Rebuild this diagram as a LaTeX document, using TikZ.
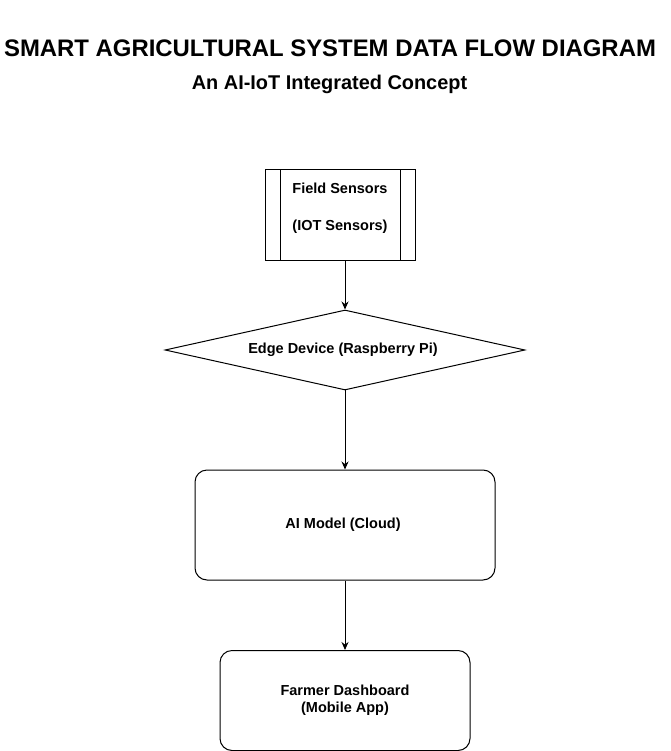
\documentclass[tikz,border=0pt]{standalone}
\usepackage{fontspec}
\setmainfont{Liberation Sans}
\usetikzlibrary{shapes.geometric, arrows.meta, positioning}

\begin{document}
\begin{tikzpicture}[
    x=1pt, y=-1pt,
    line width=1pt,
    boxtext/.style={
        align=center,
        font=\fontsize{14.5}{17}\selectfont\bfseries
    },
    procbox/.style={
        rectangle,
        draw,
        minimum width=150pt,
        minimum height=90pt,
        inner sep=0pt,
        path picture={
            \draw ([xshift=15pt]path picture bounding box.north west)
                -- ([xshift=15pt]path picture bounding box.south west);
            \draw ([xshift=-15pt]path picture bounding box.north east)
                -- ([xshift=-15pt]path picture bounding box.south east);
        }
    },
    decision/.style={
        diamond,
        draw,
        aspect=4.5,
        inner sep=0pt,
        minimum width=360pt,
        minimum height=80pt,
        boxtext
    },
    box/.style={
        rectangle,
        rounded corners=12pt,
        draw,
        boxtext
    },
    arrow/.style={
        -{Stealth[length=8pt, width=7pt]}
    }
]

\useasboundingbox (0,0) rectangle (670,751);

% ------------------------------------------------
% Title
% ------------------------------------------------

\node[anchor=base, font=\fontsize{23.9}{28}\selectfont\bfseries] (title) at (330,57) {
    SMART AGRICULTURAL SYSTEM DATA FLOW DIAGRAM
};

\node[anchor=base, font=\fontsize{19.9}{24}\selectfont\bfseries] (subtitle) at (329.5,90) {
    An AI-IoT Integrated Concept
};

% ------------------------------------------------
% Data flow
% ------------------------------------------------

\node[procbox, label={[boxtext, yshift=6.5pt]center:Field Sensors\\[20pt](IOT Sensors)}] (sensors) at (340,215) {};

\node[decision] (edge) at (345,350) {
    Edge Device (Raspberry Pi)
};

\node[box, minimum width=300pt, minimum height=110pt] (model) at (345,525) {
    AI Model (Cloud)
};

\node[box, minimum width=250pt, minimum height=100pt] (dashboard) at (345,700.5) {
    Farmer Dashboard\\
    (Mobile App)
};

% ------------------------------------------------
% Arrows
% ------------------------------------------------

\draw[arrow] (sensors.south -| edge.north) -- (edge.north);
\draw[arrow] (edge) -- (model);
\draw[arrow] (model) -- (dashboard);

\end{tikzpicture}
\end{document}
